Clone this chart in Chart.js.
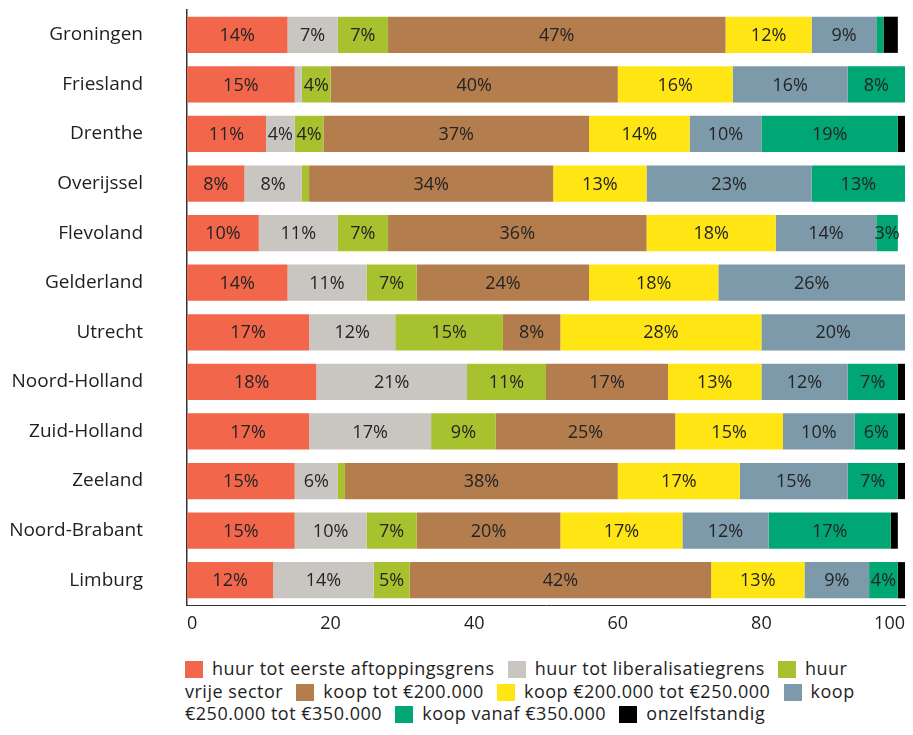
<!DOCTYPE html>
<html lang="nl">
<head>
<meta charset="utf-8">
<title>Woningvoorraad per provincie</title>
<script src="https://cdn.jsdelivr.net/npm/chart.js@4/dist/chart.umd.min.js"></script>
<style>
  html, body { margin: 0; padding: 0; background: #fff; }
  #wrap { position: relative; width: 913px; height: 735px; }
  #chartBox { position: absolute; left: 0; top: 0; width: 913px; height: 645px; }
  #legend {
    position: absolute; left: 185px; top: 657px; width: 700px;
    font-family: "Open Sans", sans-serif; font-size: 18px; line-height: 22.5px;
    color: #1e1e1e; letter-spacing: 0.5px;
  }
  #legend .sw {
    display: inline-block; width: 18px; height: 17px; vertical-align: -3px;
    margin-right: 9px;
  }
  #legend .item { margin-right: 8px; }
  #legend .nw { white-space: nowrap; }
</style>
</head>
<body>
<div id="wrap">
  <div id="chartBox"><canvas id="chart"></canvas></div>
  <div id="legend"></div>
</div>
<script>
const provinces = ['Groningen', 'Friesland', 'Drenthe', 'Overijssel', 'Flevoland', 'Gelderland',
    'Utrecht', 'Noord-Holland', 'Zuid-Holland', 'Zeeland', 'Noord-Brabant', 'Limburg'];

const seriesNames = ['huur tot eerste aftoppingsgrens', 'huur tot liberalisatiegrens', 'huur vrije sector',
    'koop tot €200.000', 'koop €200.000 tot €250.000', 'koop €250.000 tot €350.000',
    'koop vanaf €350.000', 'onzelfstandig'];

// share of the housing stock per province, in percent
const huurAftopping     = [14, 15, 11, 8, 10, 14, 17, 18, 17, 15, 15, 12];
const huurLiberalisatie = [7, 1, 4, 8, 11, 11, 12, 21, 17, 6, 10, 14];
const huurVrij          = [7, 4, 4, 1, 7, 7, 15, 11, 9, 1, 7, 5];
const koopTot200        = [47, 40, 37, 34, 36, 24, 8, 17, 25, 38, 20, 42];
const koop200tot250     = [12, 16, 14, 13, 18, 18, 28, 13, 15, 17, 17, 13];
const koop250tot350     = [9, 16, 10, 23, 14, 26, 20, 12, 10, 15, 12, 9];
const koopVanaf350      = [1, 8, 19, 13, 3, 10, 9, 7, 6, 7, 17, 4];
const onzelfstandig     = [2, 0, 1, 0, 0, 1, 1, 1, 1, 1, 1, 1];

const xTicks = [0, 20, 40, 60, 80, 100];

const seriesValues = [huurAftopping, huurLiberalisatie, huurVrij, koopTot200,
    koop200tot250, koop250tot350, koopVanaf350, onzelfstandig];
const seriesColors = ['#f2664b', '#c9c6c2', '#a8c12e', '#b37d4e', '#ffe513', '#7c9aaa', '#00a674', '#000000'];

// percentages printed in the middle of each segment
const segmentLabels = {
    id: 'segmentLabels',
    afterDatasetsDraw(chart) {
        const ctx = chart.ctx;
        const area = chart.chartArea;
        ctx.save();
        ctx.font = '18px "Open Sans", sans-serif';
        ctx.fillStyle = '#242424';
        ctx.textAlign = 'center';
        ctx.textBaseline = 'middle';
        chart.data.datasets.forEach((ds, di) => {
            if (!ds.showLabels) return;
            chart.getDatasetMeta(di).data.forEach((bar, i) => {
                const v = ds.data[i];
                if (v < 3) return;
                const x = (bar.x + bar.base) / 2;
                if (x > area.right) return;
                ctx.fillText(v + '%', x, bar.y + 1);
            });
        });
        ctx.restore();
    }
};

const chart = new Chart(document.getElementById('chart'), {
    type: 'bar',
    data: {
        labels: provinces,
        datasets: seriesNames.map((name, i) => ({
            label: name,
            data: seriesValues[i],
            backgroundColor: seriesColors[i],
            borderWidth: 0,
            barPercentage: 0.73,
            categoryPercentage: 1,
            clip: 0,
            showLabels: i < 7
        }))
    },
    options: {
        indexAxis: 'y',
        responsive: true,
        maintainAspectRatio: false,
        animation: false,
        layout: { padding: { top: 10, right: 8, left: 0, bottom: 0 } },
        plugins: {
            legend: { display: false },
            tooltip: { enabled: false }
        },
        scales: {
            x: {
                stacked: true,
                min: 0,
                max: 100,
                afterBuildTicks: axis => { axis.ticks = xTicks.map(v => ({ value: v })); },
                afterFit: axis => {
                    axis.height = 40;
                    axis.paddingLeft = 0;
                    axis.paddingRight = 0;
                },
                grid: { display: false, drawTicks: false },
                border: { display: true, color: '#333', width: 1 },
                ticks: {
                    color: '#1e1e1e',
                    padding: 8,
                    align: 'inner',
                    font: { family: '"Open Sans", sans-serif', size: 18 }
                }
            },
            y: {
                stacked: true,
                afterFit: axis => {
                    axis.width = 187;
                    axis.paddingTop = 0;
                    axis.paddingBottom = 0;
                },
                grid: { display: false, drawTicks: false },
                border: { display: true, color: '#333', width: 1.5 },
                ticks: {
                    color: '#1e1e1e',
                    padding: 44,
                    font: { family: '"Open Sans", sans-serif', size: 19 }
                }
            }
        }
    },
    plugins: [segmentLabels]
});

// legend as flowing text so entries wrap across lines
const legendBox = document.getElementById('legend');
legendBox.innerHTML = chart.data.datasets.map(ds => {
    const words = ds.label.split(' ');
    const first = words.shift();
    return '<span class="item"><span class="nw"><span class="sw" style="background:' + ds.backgroundColor +
        '"></span>' + first + '</span>' + (words.length ? ' ' + words.join(' ') : '') + '</span>';
}).join(' ');
</script>
</body>
</html>
